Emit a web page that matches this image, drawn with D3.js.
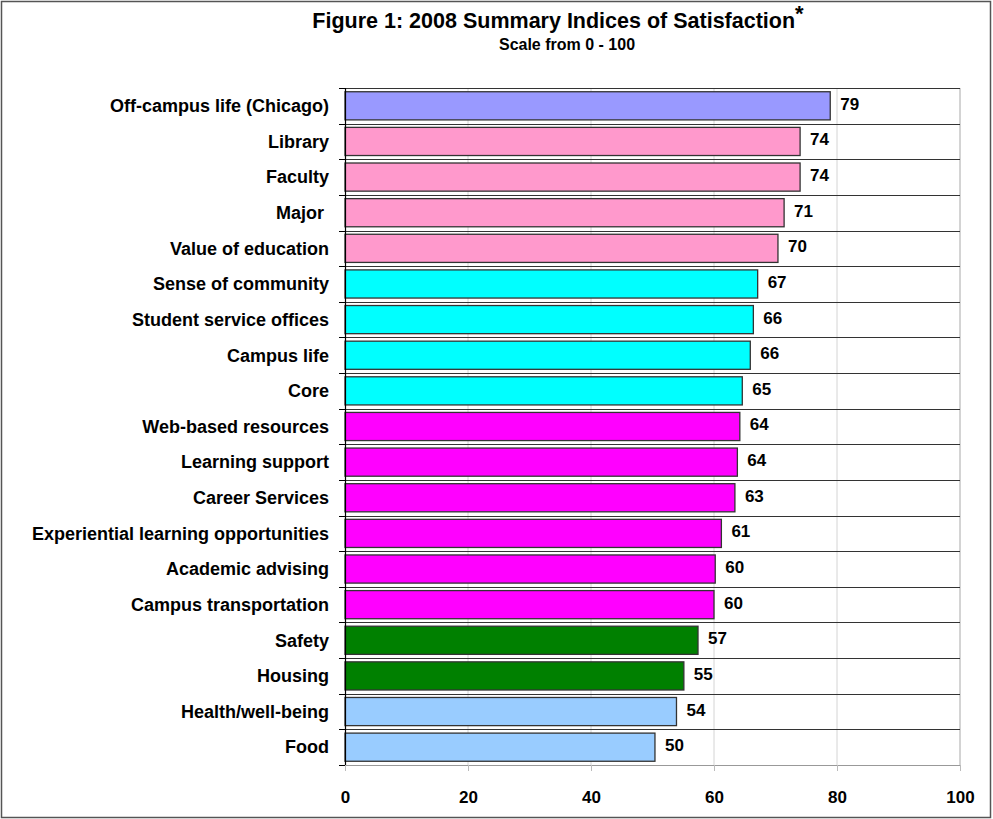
<!DOCTYPE html>
<html>
<head>
<meta charset="utf-8">
<script src="https://cdn.jsdelivr.net/npm/d3@7"></script>
<style>
  body { margin: 0; background: #fff; }
  svg { display: block; font-family: "Liberation Sans", Arial, sans-serif; font-weight: bold; }
</style>
</head>
<body>
<div id="chart"></div>
<script>
// chart data
var categories = ["Off-campus life (Chicago)", "Library", "Faculty", "Major ", "Value of education",
  "Sense of community", "Student service offices", "Campus life", "Core", "Web-based resources",
  "Learning support", "Career Services", "Experiential learning opportunities", "Academic advising",
  "Campus transportation", "Safety", "Housing", "Health/well-being", "Food"];
var values = [78.9, 74.0, 74.0, 71.4, 70.4, 67.1, 66.4, 65.9, 64.6, 64.2, 63.8, 63.4, 61.2, 60.2, 60.0, 57.4, 55.1, 53.9, 50.4];
var groups = ["chicago", "academic", "academic", "academic", "academic",
  "community", "community", "community", "community", "services",
  "services", "services", "services", "services", "services",
  "living", "living", "wellness", "wellness"];
var xTicks = [0, 20, 40, 60, 80, 100];

var W = 993, H = 819;
var margin = { top: 88, right: 33, bottom: 54, left: 345 };

var svg = d3.select("#chart").append("svg")
  .attr("width", W)
  .attr("height", H);

// outer frame
svg.append("rect")
  .attr("x", 1.5).attr("y", 1.5)
  .attr("width", W - 4).attr("height", H - 3)
  .attr("fill", "#fff")
  .attr("stroke", "#555")
  .attr("stroke-width", 1.5);

var x = d3.scaleLinear()
  .domain([0, 100])
  .range([margin.left, W - margin.right]);

var y = d3.scaleBand()
  .domain(categories)
  .range([margin.top, H - margin.bottom])
  .paddingInner(0.21)
  .paddingOuter(0.105);

var color = d3.scaleOrdinal()
  .domain(["chicago", "academic", "community", "services", "living", "wellness"])
  .range(["#9999ff", "#ff99cc", "#00ffff", "#ff00ff", "#008000", "#99ccff"]);

// title
svg.append("text")
  .attr("x", 558).attr("y", 28)
  .attr("text-anchor", "middle")
  .style("font-size", "21.5px")
  .text("Figure 1: 2008 Summary Indices of Satisfaction")
  .append("tspan")
  .attr("dy", -7)
  .style("font-size", "22px")
  .text("*");

svg.append("text")
  .attr("x", 567).attr("y", 50)
  .attr("text-anchor", "middle")
  .style("font-size", "16px")
  .text("Scale from 0 - 100");

// vertical gridlines
svg.append("g")
  .selectAll("line")
  .data(xTicks.slice(1, -1))
  .enter().append("line")
  .attr("x1", d => x(d)).attr("x2", d => x(d))
  .attr("y1", margin.top).attr("y2", H - margin.bottom)
  .attr("stroke", "#d4d4d4");

// right edge of plot
svg.append("line")
  .attr("x1", x(100)).attr("x2", x(100))
  .attr("y1", margin.top).attr("y2", H - margin.bottom)
  .attr("stroke", "#a8a8a8");

// horizontal separators between categories
var step = y.step();
var bounds = d3.range(categories.length).map(i => margin.top + i * step);
svg.append("g")
  .selectAll("line")
  .data(bounds)
  .enter().append("line")
  .attr("x1", margin.left).attr("x2", W - margin.right)
  .attr("y1", d => Math.round(d) + 0.5).attr("y2", d => Math.round(d) + 0.5)
  .attr("stroke", "#333");

// x axis
var xAxis = d3.axisBottom(x)
  .tickValues(xTicks)
  .tickSize(6)
  .tickPadding(20);

var gx = svg.append("g")
  .attr("transform", "translate(0," + (H - margin.bottom) + ")")
  .call(xAxis);
gx.select(".domain").attr("stroke", "#999");
gx.selectAll(".tick line").attr("stroke", "#bbb");
gx.selectAll("text")
  .style("font-size", "17px")
  .style("font-family", "Liberation Sans, Arial, sans-serif")
  .style("font-weight", "bold")
  .attr("fill", "#000");

// bars
svg.append("g")
  .selectAll("rect")
  .data(categories)
  .enter().append("rect")
  .attr("x", x(0))
  .attr("y", d => y(d))
  .attr("width", (d, i) => x(values[i]) - x(0))
  .attr("height", y.bandwidth())
  .attr("fill", (d, i) => color(groups[i]))
  .attr("stroke", "#333")
  .attr("stroke-width", 1.3);

// value labels
svg.append("g")
  .selectAll("text")
  .data(categories)
  .enter().append("text")
  .attr("x", (d, i) => x(values[i]) + 10)
  .attr("y", d => y(d) + y.bandwidth() / 2 - 2)
  .attr("dy", "0.35em")
  .style("font-size", "17px")
  .text((d, i) => d3.format(".0f")(values[i]));

// y axis with ticks on category boundaries
svg.append("line")
  .attr("x1", margin.left + 0.5).attr("x2", margin.left + 0.5)
  .attr("y1", margin.top).attr("y2", H - margin.bottom)
  .attr("stroke", "#000")
  .attr("stroke-width", 1.2);

svg.append("g")
  .selectAll("line")
  .data(bounds.concat([H - margin.bottom]))
  .enter().append("line")
  .attr("x1", margin.left - 6).attr("x2", margin.left)
  .attr("y1", d => Math.round(d) + 0.5).attr("y2", d => Math.round(d) + 0.5)
  .attr("stroke", "#000");

// category labels
svg.append("g")
  .selectAll("text")
  .data(categories)
  .enter().append("text")
  .attr("x", margin.left - 16)
  .attr("y", d => y(d) + y.bandwidth() / 2)
  .attr("dy", "0.35em")
  .attr("text-anchor", "end")
  .style("font-size", "18px")
  .style("white-space", "pre")
  .text(d => d);
</script>
</body>
</html>
